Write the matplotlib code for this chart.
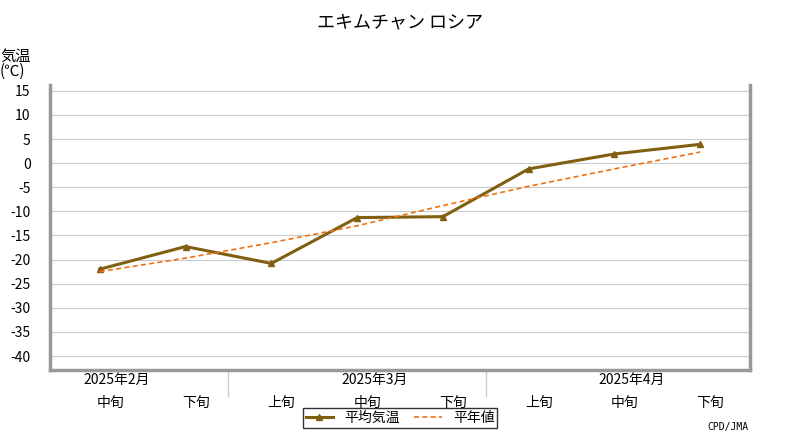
import matplotlib
matplotlib.use("Agg")
import matplotlib.pyplot as plt
import numpy as np

plt.rcParams["font.family"] = ["Noto Sans CJK JP", "DejaVu Sans"]

# data
periods = ["中旬", "下旬", "上旬", "中旬", "下旬", "上旬", "中旬", "下旬"]
months = ["2025年2月", "2025年3月", "2025年4月"]
month_pos = [0.2, 3.2, 6.2]
mean_temp = [-22.0, -17.3, -20.8, -11.3, -11.1, -1.2, 1.9, 3.9]
normal_temp = [-22.5, -19.7, -16.5, -13.0, -8.8, -4.8, -1.2, 2.3]
yticks = list(range(15, -41, -5))

x = np.arange(len(periods))

fig = plt.figure(figsize=(8, 4.4), dpi=100)
ax = fig.add_axes([50 / 800, 70 / 440, 700 / 800, 285 / 440])

ax.plot(x, mean_temp, color="#806010", lw=2.2, marker="^", ms=5, label="平均気温")
ax.plot(x, normal_temp, color="#f07010", lw=1.2, ls="--", dashes=(3, 2), label="平年値")

ax.set_xlim(-0.58, 7.58)
ax.set_ylim(-42.9, 16.2)
ax.set_yticks(yticks)
ax.set_yticklabels([str(v) for v in yticks], fontsize=10)
ax.yaxis.grid(True, color="#cccccc", lw=0.8)
ax.set_axisbelow(True)
ax.tick_params(axis="y", length=0, pad=14)
ax.set_xticks([])
for s in ["left", "right", "bottom"]:
    ax.spines[s].set_color("#999999")
    ax.spines[s].set_linewidth(2.5)
ax.spines["top"].set_visible(False)

# category labels
for i, p in enumerate(periods):
    ax.text(i + 0.12, -0.09, p, transform=ax.get_xaxis_transform(),
            ha="center", va="top", fontsize=10)
for m, mp in zip(months, month_pos):
    ax.text(mp, -0.01, m, transform=ax.get_xaxis_transform(),
            ha="center", va="top", fontsize=10)
for sep in [1.5, 4.5]:
    ax.plot([sep, sep], [0, -0.09], transform=ax.get_xaxis_transform(),
            color="#cccccc", lw=1, clip_on=False)

fig.text(0.5, 0.95, "エキムチャン ロシア", ha="center", va="center", fontsize=13)
fig.text(0.0, 0.855, "気温\n(℃)", ha="left", va="center", fontsize=11, linespacing=0.9)
fig.text(0.935, 0.03, "CPD/JMA", ha="right", va="center", fontsize=7, family="DejaVu Sans Mono")

fig.legend(loc="center", bbox_to_anchor=(0.5, 0.05), ncol=2, fontsize=10,
           frameon=True, fancybox=False, edgecolor="black", handlelength=2,
           borderpad=0.2, columnspacing=1.0)

fig.savefig("out.png", dpi=100)
